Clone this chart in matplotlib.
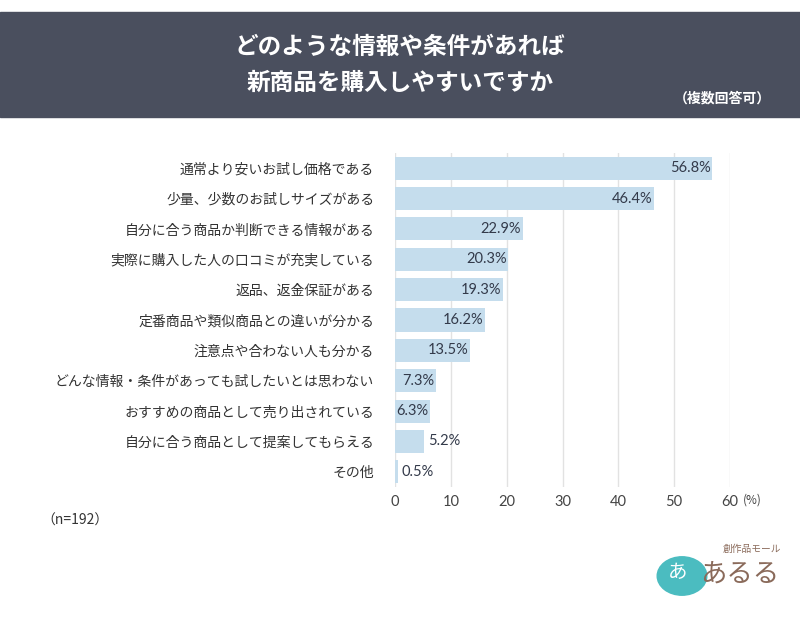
import matplotlib.pyplot as plt
from matplotlib.patches import Rectangle, Circle

plt.rcParams['font.family'] = ['Noto Sans CJK JP', 'DejaVu Sans']

# Daten
labels = ["通常より安いお試し価格である",
          "少量、少数のお試しサイズがある",
          "自分に合う商品か判断できる情報がある",
          "実際に購入した人の口コミが充実している",
          "返品、返金保証がある",
          "定番商品や類似商品との違いが分かる",
          "注意点や合わない人も分かる",
          "どんな情報・条件があっても試したいとは思わない",
          "おすすめの商品として売り出されている",
          "自分に合う商品として提案してもらえる",
          "その他"]
werte = [56.8, 46.4, 22.9, 20.3, 19.3, 16.2, 13.5, 7.3, 6.3, 5.2, 0.5]
xticks = [0, 10, 20, 30, 40, 50, 60]

fig = plt.figure(figsize=(8, 6.2), dpi=100)

# Kopfzeile
fig.patches.append(Rectangle((0, 1 - 117/620), 1, 105/620, transform=fig.transFigure,
                             color="#4a4f5e", zorder=0))
fig.text(0.5, 1 - 47/620, "どのような情報や条件があれば", color="white", fontsize=17,
         fontweight="bold", ha="center", va="center")
fig.text(0.5, 1 - 83/620, "新商品を購入しやすいですか", color="white", fontsize=17,
         fontweight="bold", ha="center", va="center")
fig.text(722/800, 1 - 98/620, "（複数回答可）", color="white", fontsize=10,
         fontweight="bold", ha="center", va="center")

ax = fig.add_axes([395/800, 1 - 487/620, 335/800, 334/620])
y = list(range(len(labels)))
ax.barh(y, werte, height=0.76, color="#c5dded", zorder=2)
ax.set_ylim(len(labels) - 0.5, -0.5)
ax.set_xlim(0, 60)
ax.set_yticks(y)
ax.set_yticklabels(labels, fontsize=10, color="#333333")
ax.set_xticks(xticks)
ax.set_xticklabels([str(t) for t in xticks], fontsize=10.5, color="#444444",
                   family=["Lato", "DejaVu Sans"])
ax.tick_params(length=0, pad=15)
ax.tick_params(axis="x", pad=6)
for s in ax.spines.values():
    s.set_visible(False)
ax.grid(axis="x", color="#e2e2e2", linewidth=1, zorder=0)
ax.set_axisbelow(True)

for i, w in enumerate(werte):
    txt = f"{w}%"
    if w > 6:
        ax.text(w - 0.3, i, txt, ha="right", va="center", fontsize=10.5, color="#333a4a",
                family=["Lato", "DejaVu Sans"], zorder=3)
    else:
        ax.text(w + 0.7, i, txt, ha="left", va="center", fontsize=10.5, color="#333a4a",
                family=["Lato", "DejaVu Sans"], zorder=3)

fig.text(752/800, 1 - 500/620, "(%)", fontsize=8.5, color="#444444", ha="center", va="center")
fig.text(75/800, 1 - 521/620, "（n=192）", fontsize=10, color="#333333", ha="center", va="center")

# Logo (grob)
fig.patches.append(Circle((682/800, 1 - 576/620), 0.031, transform=fig.transFigure,
                          color="#4bbcc0", zorder=1))
fig.text(678/800, 1 - 572/620, "あ", color="white", fontsize=14, ha="center", va="center")
fig.text(752/800, 1 - 549/620, "創作品モール", color="#8a6a5a", fontsize=7, ha="center", va="center")
fig.text(740/800, 1 - 574/620, "あるる", color="#8a6a5a", fontsize=19, ha="center", va="center")

fig.savefig("out.png", dpi=100)
